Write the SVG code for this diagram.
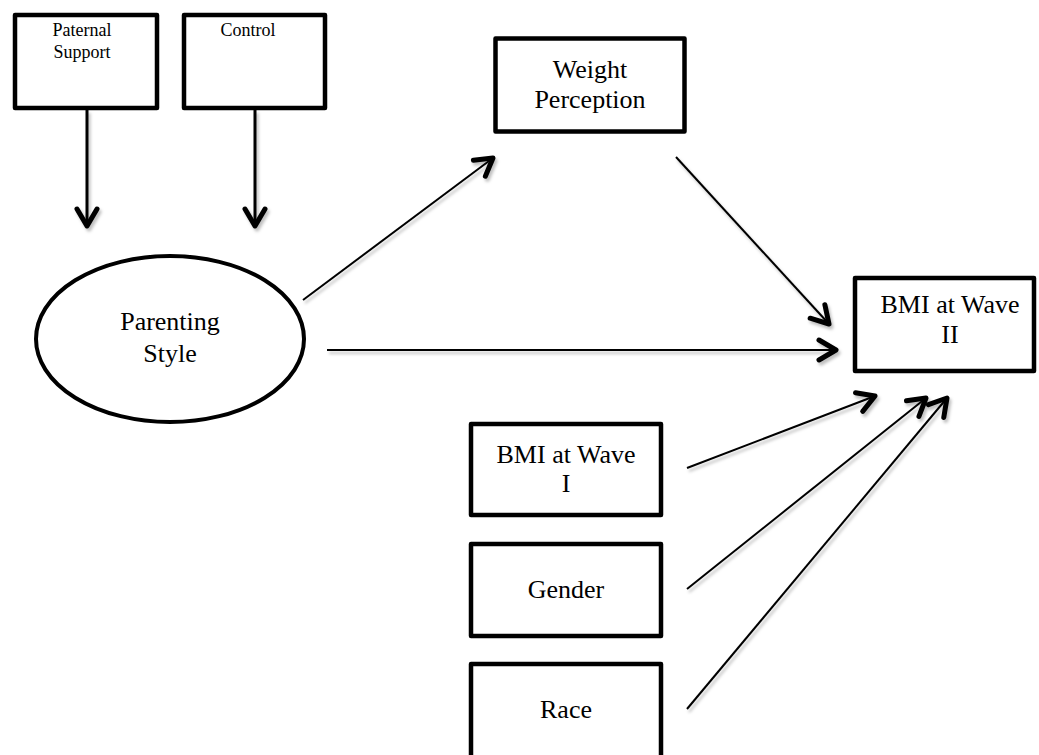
<svg xmlns="http://www.w3.org/2000/svg" width="1039" height="755" viewBox="0 0 1039 755">
<style>
.box{fill:#fff;stroke:#000;stroke-width:4.5;stroke-linejoin:round}
.t{font-family:"Liberation Serif","Times New Roman",serif;font-size:26px;fill:#000;text-anchor:middle}
.ts{font-family:"Liberation Serif","Times New Roman",serif;font-size:18px;fill:#000;text-anchor:middle}
.c{fill:none;stroke:#000;stroke-width:2;marker-end:url(#ah)}
.cd{fill:none;stroke:#000;stroke-width:3;marker-end:url(#ah)}
</style>
<defs>
<marker id="ah" markerUnits="userSpaceOnUse" viewBox="-24 -14 28 28" refX="0" refY="0" markerWidth="28" markerHeight="28" orient="auto" overflow="visible">
<path d="M-17,-10 L0,0 L-17,10" fill="none" stroke="#000" stroke-width="5" stroke-linecap="round" stroke-linejoin="round"/>
</marker>
<filter id="sh" x="-10%" y="-10%" width="130%" height="130%">
<feDropShadow dx="2" dy="3" stdDeviation="1.5" flood-color="#000" flood-opacity="0.25"/>
</filter>
</defs>
<rect width="1039" height="755" fill="#fff"/>
<g id="connectors" filter="url(#sh)">
<line class="cd" x1="87" y1="110" x2="87" y2="226"/>
<line class="cd" x1="255" y1="110" x2="255" y2="226"/>
<line class="c" x1="303" y1="300" x2="493" y2="158"/>
<line class="c" x1="327" y1="350" x2="836" y2="350"/>
<line class="c" x1="676" y1="157" x2="829" y2="324"/>
<line class="c" x1="687" y1="468" x2="875" y2="396"/>
<line class="c" x1="687" y1="589" x2="926" y2="398"/>
<line class="c" x1="687" y1="709" x2="947" y2="398"/>
</g>
<g id="paternal-support">
<rect class="box" x="15" y="15" width="142" height="93"/>
<text class="ts" x="82" y="36">Paternal</text>
<text class="ts" x="82" y="58">Support</text>
</g>
<g id="control">
<rect class="box" x="184" y="15" width="141" height="93"/>
<text class="ts" x="248" y="36">Control</text>
</g>
<g id="weight-perception">
<rect class="box" x="495.5" y="38.5" width="189" height="93"/>
<text class="t" x="590" y="78">Weight</text>
<text class="t" x="590" y="108">Perception</text>
</g>
<g id="parenting-style">
<ellipse cx="170" cy="339" rx="134" ry="83" fill="#fff" stroke="#000" stroke-width="4"/>
<text class="t" x="170" y="330">Parenting</text>
<text class="t" x="170" y="362">Style</text>
</g>
<g id="bmi-wave-2">
<rect class="box" x="855" y="278" width="179" height="93"/>
<text class="t" x="950" y="313">BMI at Wave</text>
<text class="t" x="950" y="343">II</text>
</g>
<g id="bmi-wave-1">
<rect class="box" x="471" y="424" width="190" height="91"/>
<text class="t" x="566" y="463">BMI at Wave</text>
<text class="t" x="566" y="492">I</text>
</g>
<g id="gender">
<rect class="box" x="471" y="544" width="190" height="92"/>
<text class="t" x="566" y="598">Gender</text>
</g>
<g id="race">
<rect class="box" x="471" y="664" width="190" height="100"/>
<text class="t" x="566" y="718">Race</text>
</g>
</svg>
